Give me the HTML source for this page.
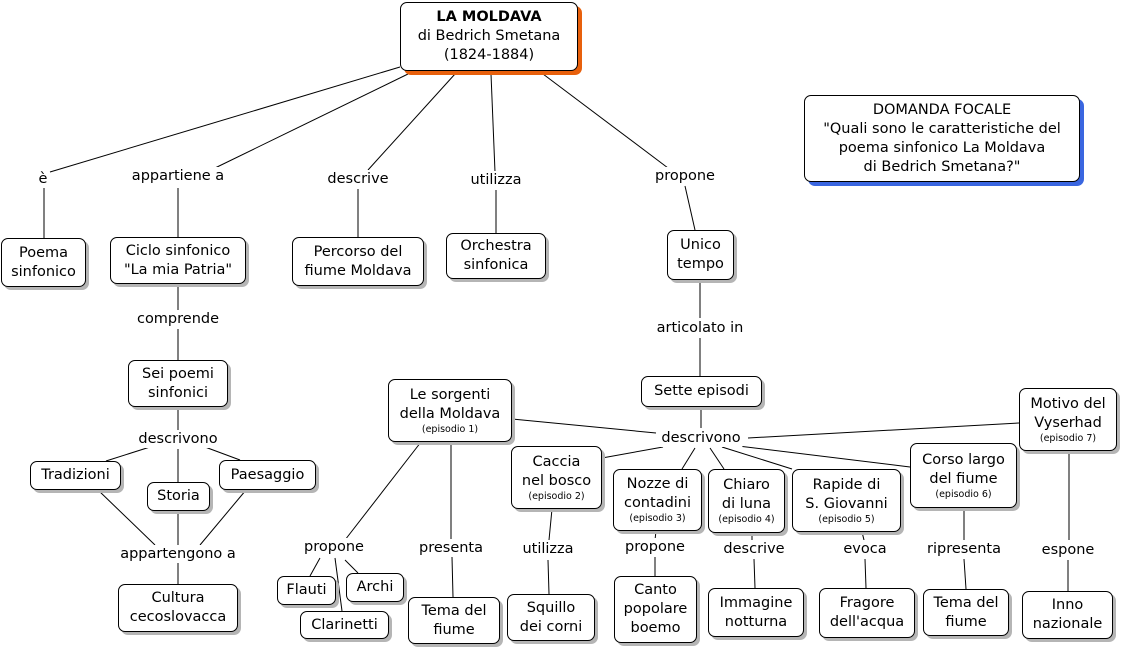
<!DOCTYPE html>
<html><head><meta charset="utf-8"><style>
body{margin:0;width:1124px;height:651px;background:#fff;position:relative;overflow:hidden;font-family:"DejaVu Sans","Liberation Sans",sans-serif;color:#000}
svg{position:absolute;left:0;top:0}
.n{position:absolute;box-sizing:border-box;border:1px solid #000;border-radius:7px;background:#fff;box-shadow:3px 3px 0 #b5b5b5;display:flex;flex-direction:column;align-items:center;justify-content:center;text-align:center;font-size:14.5px;line-height:19px}
.n small{font-size:9.5px;line-height:12px}
.l{position:absolute;background:#fff;font-size:14.5px;line-height:18px;transform:translate(-50%,-50%);white-space:nowrap;padding:0 2px}
</style></head><body>
<svg width="1124" height="651"><g stroke="#000" stroke-width="1" fill="none">
<line x1="400" y1="67" x2="50" y2="172"/><line x1="408" y1="74" x2="215" y2="168"/><line x1="455" y1="74" x2="368" y2="170"/><line x1="491" y1="74" x2="495" y2="172"/><line x1="543" y1="74" x2="668" y2="168"/>
<line x1="44" y1="188" x2="44" y2="238"/><line x1="178" y1="188" x2="178" y2="237"/><line x1="358" y1="189" x2="358" y2="237"/><line x1="496" y1="190" x2="496" y2="233"/><line x1="685" y1="186" x2="695" y2="230"/>
<line x1="700" y1="280" x2="700" y2="318"/><line x1="700" y1="338" x2="700" y2="376"/><line x1="701" y1="407" x2="701" y2="428"/>
<line x1="512" y1="419" x2="656" y2="433"/><line x1="1019" y1="423" x2="748" y2="438"/><line x1="602" y1="458" x2="663" y2="447"/><line x1="682" y1="469" x2="695" y2="448"/><line x1="724" y1="469" x2="710" y2="448"/><line x1="792" y1="469" x2="722" y2="447"/><line x1="910" y1="467" x2="730" y2="445"/>
<line x1="178" y1="284" x2="178" y2="310"/><line x1="178" y1="329" x2="178" y2="360"/><line x1="178" y1="407" x2="178" y2="430"/>
<line x1="106" y1="461" x2="150" y2="447"/><line x1="178" y1="449" x2="178" y2="482"/><line x1="205" y1="447" x2="240" y2="460"/>
<line x1="98" y1="490" x2="155" y2="545"/><line x1="178" y1="511" x2="178" y2="545"/><line x1="246" y1="490" x2="200" y2="545"/><line x1="178" y1="563" x2="178" y2="584"/>
<line x1="421" y1="442" x2="345" y2="540"/><line x1="451" y1="442" x2="451" y2="540"/><line x1="320" y1="558" x2="310" y2="576"/><line x1="345" y1="560" x2="358" y2="573"/><line x1="335" y1="558" x2="342" y2="611"/><line x1="452" y1="557" x2="453" y2="597"/>
<line x1="552" y1="509" x2="549" y2="540"/><line x1="548" y1="560" x2="549" y2="594"/><line x1="656" y1="531" x2="655" y2="540"/><line x1="655" y1="557" x2="655" y2="576"/>
<line x1="752" y1="533" x2="752" y2="540"/><line x1="754" y1="559" x2="755" y2="588"/><line x1="862" y1="532" x2="864" y2="540"/><line x1="865" y1="559" x2="866" y2="588"/>
<line x1="964" y1="508" x2="964" y2="540"/><line x1="964" y1="559" x2="966" y2="589"/><line x1="1069" y1="451" x2="1069" y2="540"/><line x1="1068" y1="560" x2="1068" y2="591"/>
</g></svg>
<div class="n" style="left:400px;top:2px;width:178px;height:69px;box-shadow:4px 4px 0 #e8600c"><b>LA MOLDAVA</b>di Bedrich Smetana<br>(1824-1884)</div>
<div class="n" style="left:804px;top:95px;width:276px;height:87px;box-shadow:4px 4px 0 #3a66e0">DOMANDA FOCALE<br>"Quali sono le caratteristiche del<br>poema sinfonico La Moldava<br>di Bedrich Smetana?"</div>
<div class="n" style="left:1px;top:238px;width:85px;height:49px">Poema<br>sinfonico</div>
<div class="n" style="left:110px;top:237px;width:136px;height:47px">Ciclo sinfonico<br>"La mia Patria"</div>
<div class="n" style="left:292px;top:237px;width:132px;height:49px">Percorso del<br>fiume Moldava</div>
<div class="n" style="left:446px;top:233px;width:100px;height:46px">Orchestra<br>sinfonica</div>
<div class="n" style="left:667px;top:230px;width:67px;height:50px">Unico<br>tempo</div>
<div class="n" style="left:128px;top:360px;width:100px;height:47px">Sei poemi<br>sinfonici</div>
<div class="n" style="left:30px;top:461px;width:91px;height:29px">Tradizioni</div>
<div class="n" style="left:147px;top:482px;width:63px;height:29px">Storia</div>
<div class="n" style="left:219px;top:460px;width:97px;height:30px">Paesaggio</div>
<div class="n" style="left:118px;top:584px;width:120px;height:48px">Cultura<br>cecoslovacca</div>
<div class="n" style="left:641px;top:376px;width:121px;height:31px">Sette episodi</div>
<div class="n" style="left:388px;top:379px;width:124px;height:63px">Le sorgenti<br>della Moldava<small>(episodio 1)</small></div>
<div class="n" style="left:1019px;top:388px;width:98px;height:63px">Motivo del<br>Vyserhad<small>(episodio 7)</small></div>
<div class="n" style="left:511px;top:446px;width:91px;height:63px">Caccia<br>nel bosco<small>(episodio 2)</small></div>
<div class="n" style="left:613px;top:469px;width:89px;height:62px">Nozze di<br>contadini<small>(episodio 3)</small></div>
<div class="n" style="left:708px;top:469px;width:77px;height:64px">Chiaro<br>di luna<small>(episodio 4)</small></div>
<div class="n" style="left:792px;top:469px;width:109px;height:63px">Rapide di<br>S. Giovanni<small>(episodio 5)</small></div>
<div class="n" style="left:910px;top:443px;width:107px;height:65px">Corso largo<br>del fiume<small>(episodio 6)</small></div>
<div class="n" style="left:277px;top:576px;width:59px;height:29px">Flauti</div>
<div class="n" style="left:346px;top:573px;width:58px;height:29px">Archi</div>
<div class="n" style="left:300px;top:611px;width:89px;height:28px">Clarinetti</div>
<div class="n" style="left:408px;top:597px;width:92px;height:47px">Tema del<br>fiume</div>
<div class="n" style="left:507px;top:594px;width:88px;height:47px">Squillo<br>dei corni</div>
<div class="n" style="left:614px;top:576px;width:83px;height:67px">Canto<br>popolare<br>boemo</div>
<div class="n" style="left:708px;top:588px;width:96px;height:49px">Immagine<br>notturna</div>
<div class="n" style="left:819px;top:588px;width:96px;height:50px">Fragore<br>dell'acqua</div>
<div class="n" style="left:923px;top:589px;width:86px;height:47px">Tema del<br>fiume</div>
<div class="n" style="left:1022px;top:591px;width:91px;height:48px">Inno<br>nazionale</div>
<div class="l" style="left:43px;top:179px">è</div>
<div class="l" style="left:178px;top:176px">appartiene a</div>
<div class="l" style="left:358px;top:179px">descrive</div>
<div class="l" style="left:496px;top:180px">utilizza</div>
<div class="l" style="left:685px;top:176px">propone</div>
<div class="l" style="left:178px;top:319px">comprende</div>
<div class="l" style="left:178px;top:439px">descrivono</div>
<div class="l" style="left:178px;top:554px">appartengono a</div>
<div class="l" style="left:700px;top:328px">articolato in</div>
<div class="l" style="left:701px;top:438px">descrivono</div>
<div class="l" style="left:334px;top:547px">propone</div>
<div class="l" style="left:451px;top:548px">presenta</div>
<div class="l" style="left:548px;top:549px">utilizza</div>
<div class="l" style="left:655px;top:547px">propone</div>
<div class="l" style="left:754px;top:549px">descrive</div>
<div class="l" style="left:865px;top:549px">evoca</div>
<div class="l" style="left:964px;top:549px">ripresenta</div>
<div class="l" style="left:1068px;top:550px">espone</div>
</body></html>
